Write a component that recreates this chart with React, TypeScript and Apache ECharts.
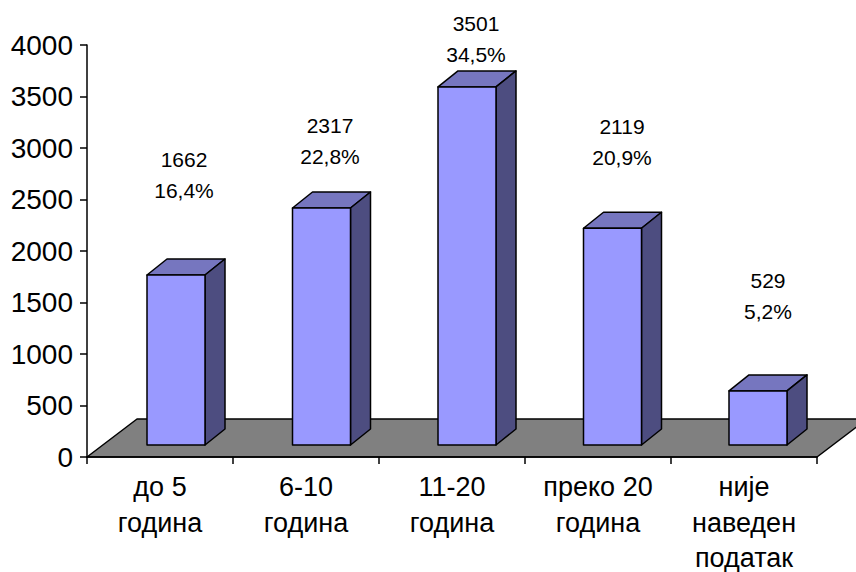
import React, { useEffect, useRef } from "react";
import * as echarts from "echarts";

const categories = ["до 5\nгодина", "6-10\nгодина", "11-20\nгодина", "преко 20\nгодина", "није\nнаведен\nподатак"];
const counts = [1662, 2317, 3501, 2119, 529];
const shares = ["16,4%", "22,8%", "34,5%", "20,9%", "5,2%"];
const labelLift = [116, 83, 63, 102, 110];

const FONT = '"Liberation Sans", Arial, sans-serif';
const DX = 50, DY = 38, BAR_W = 58, BAR_DX = 20, BAR_DY = 16, OFF_X = 16, OFF_Y = 12, H_SCALE = 0.993, STEP_FIX = 0.5;
const stroke = { stroke: "#000", lineWidth: 1.5, lineJoin: "round" as const };

export default function App() {
  const ref = useRef<HTMLDivElement>(null);
  useEffect(() => {
    document.body.style.margin = "0";
    const chart = echarts.init(ref.current!, null, { renderer: "svg" });
    chart.setOption({
      animation: false,
      backgroundColor: "#fff",
      grid: { left: 87, right: 39, top: 45, bottom: 115, outerBoundsMode: "none" },
      xAxis: {
        type: "category",
        data: categories,
        axisLine: { lineStyle: { color: "#000", width: 1.5 } },
        axisTick: { show: true, length: 7, lineStyle: { color: "#000", width: 1.5 } },
        axisLabel: { color: "#000", fontFamily: FONT, fontSize: 27, lineHeight: 35.5, margin: 12.5, interval: 0 },
        z: 10,
      },
      yAxis: {
        type: "value",
        min: 0,
        max: 4000,
        interval: 500,
        splitLine: { show: false },
        axisLine: { show: true, lineStyle: { color: "#000", width: 1.5 } },
        axisTick: { show: true, length: 7, lineStyle: { color: "#000", width: 1.5 } },
        axisLabel: { color: "#000", fontFamily: FONT, fontSize: 28, margin: 14, formatter: (v: number) => String(v) },
        z: 10,
      },
      series: [
        {
          type: "custom",
          clip: false,
          z: 1,
          data: [0],
          encode: { x: 0, y: 0 },
          renderItem: (params: any) => {
            const c = params.coordSys;
            const y = c.y + c.height;
            return {
              type: "polygon",
              shape: { points: [[c.x, y], [c.x + c.width, y], [c.x + c.width + DX, y - DY], [c.x + DX, y - DY]] },
              style: { fill: "#808080", ...stroke },
            };
          },
        },
        {
          type: "custom",
          clip: false,
          z: 2,
          data: counts.map((v, i) => [i, v]),
          encode: { x: 0, y: 1 },
          renderItem: (params: any, api: any) => {
            const i = api.value(0);
            const v = api.value(1);
            const [cx, y0] = api.coord([i, 0]);
            const [, yv] = api.coord([i, v]);
            const l = cx + OFF_X - BAR_W / 2 - i * STEP_FIX;
            const r = l + BAR_W;
            const b = y0 - OFF_Y;
            const t = b - (y0 - yv) * H_SCALE;
            const tx = cx + 24;
            const ty = t - labelLift[i];
            const text = (s: string, y: number) => ({
              type: "text",
              style: { text: s, x: tx, y, fill: "#000", font: `21px ${FONT}`, align: "center", verticalAlign: "middle" },
            });
            return {
              type: "group",
              children: [
                { type: "polygon", shape: { points: [[l, t], [r, t], [r + BAR_DX, t - BAR_DY], [l + BAR_DX, t - BAR_DY]] }, style: { fill: "#7676BF", ...stroke } },
                { type: "polygon", shape: { points: [[r, t], [r + BAR_DX, t - BAR_DY], [r + BAR_DX, b - BAR_DY], [r, b]] }, style: { fill: "#4D4D80", ...stroke } },
                { type: "polygon", shape: { points: [[l, t], [r, t], [r, b], [l, b]] }, style: { fill: "#9999FF", ...stroke } },
                text(String(v), ty),
                text(shares[i], ty + 31),
              ],
            };
          },
        },
      ],
    });
    return () => chart.dispose();
  }, []);
  return <div ref={ref} style={{ width: 856, height: 572 }} />;
}
